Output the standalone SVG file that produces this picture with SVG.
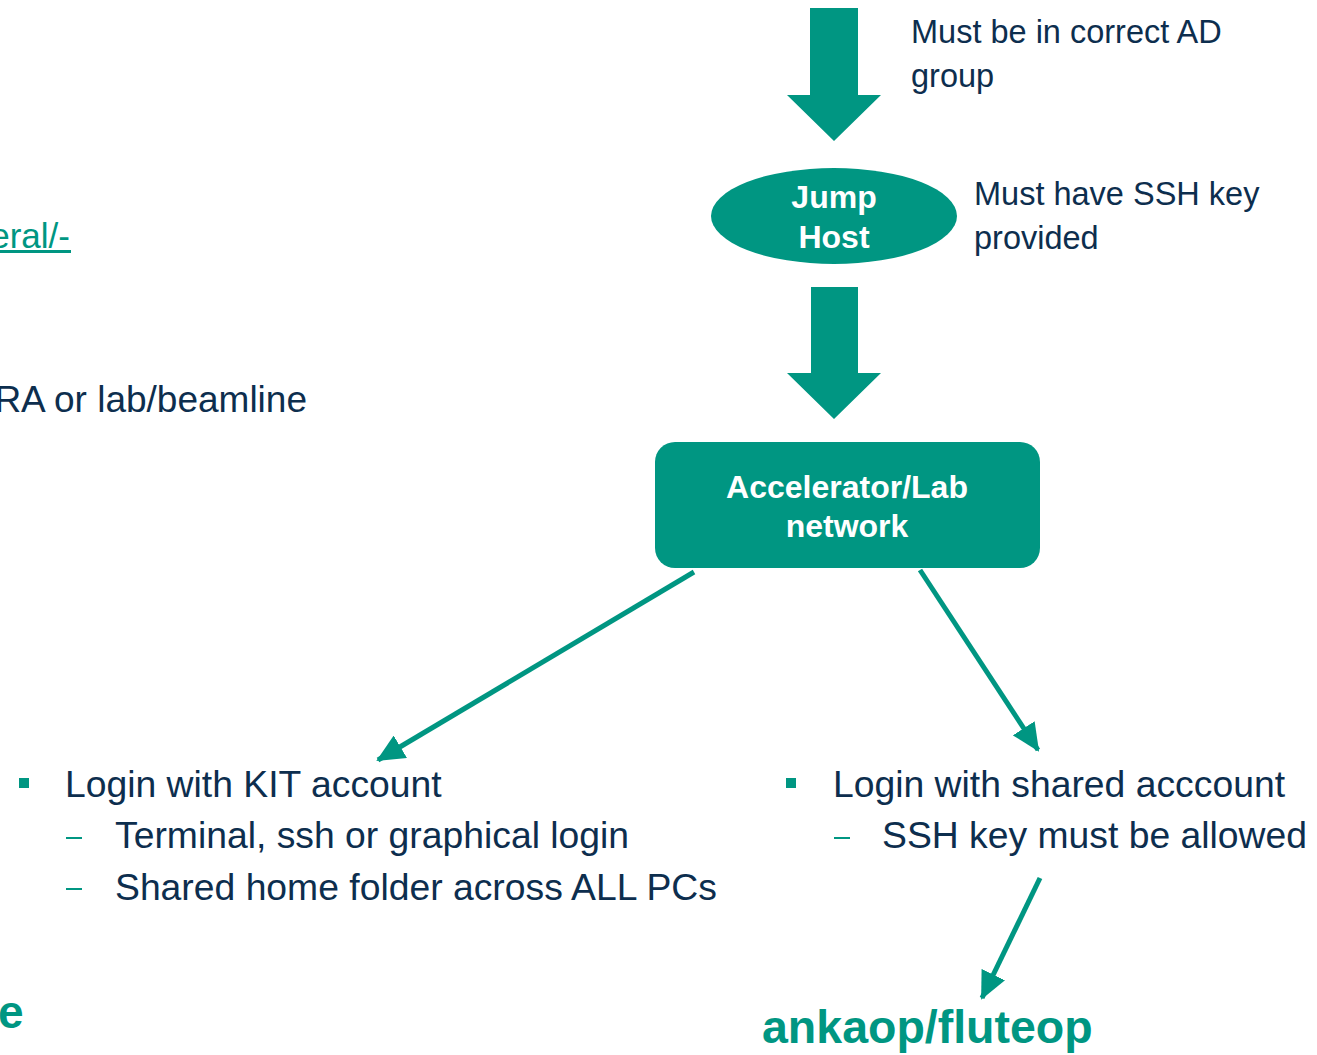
<svg xmlns="http://www.w3.org/2000/svg" width="1317" height="1055" viewBox="0 0 1317 1055">
<defs>
<style>
.t{font-family:"Liberation Sans",Arial,sans-serif;fill:#0d2e4e}
.b{font-family:"Liberation Sans",Arial,sans-serif;font-weight:bold}
.w{fill:#ffffff;font-size:32px;text-anchor:middle}
.g{fill:#009682}
.ln{stroke:#009682;stroke-width:5;fill:none}
.d{stroke:#009682;stroke-width:2}
</style>
<marker id="ah" markerUnits="userSpaceOnUse" markerWidth="28" markerHeight="26" viewBox="0 0 28 26" refX="26" refY="13" orient="auto">
<path d="M0,0 L28,13 L0,26 Z" fill="#009682"/>
</marker>
</defs>
<rect width="1317" height="1055" fill="#ffffff"/>

<g id="left-text">
<text class="t" x="70" y="248" font-size="35" text-anchor="end" style="fill:#009682">eral/-</text>
<rect x="0" y="250" width="71" height="3" fill="#009682"/>
<text class="t" x="307" y="412" font-size="37" text-anchor="end">RA or lab/beamline</text>
<text class="b g" x="-2" y="1028" font-size="46">e</text>
</g>

<g id="arrow-top">
<path d="M810,8 H858 V95 H881 L834,141 L787,95 H810 Z" fill="#009682"/>
</g>
<g id="note-ad">
<text class="t" x="911" y="43" font-size="32.5">Must be in correct AD</text>
<text class="t" x="911" y="87" font-size="32.5">group</text>
</g>

<g id="jump-host">
<ellipse cx="834" cy="216" rx="123" ry="48" fill="#009682"/>
<text class="b w" x="834" y="208">Jump</text>
<text class="b w" x="834" y="248">Host</text>
</g>
<g id="note-ssh">
<text class="t" x="974" y="205" font-size="32.5">Must have SSH key</text>
<text class="t" x="974" y="249" font-size="32.5">provided</text>
</g>

<g id="arrow-mid">
<path d="M811,287 H858 V373 H881 L834,419 L787,373 H811 Z" fill="#009682"/>
</g>

<g id="network">
<rect x="655" y="442" width="385" height="126" rx="20" fill="#009682"/>
<text class="b w" x="847" y="498">Accelerator/Lab</text>
<text class="b w" x="847" y="537">network</text>
</g>

<g id="connectors">
<line class="ln" x1="694" y1="572" x2="378" y2="760" marker-end="url(#ah)"/>
<line class="ln" x1="920" y1="570" x2="1038" y2="750" marker-end="url(#ah)"/>
<line class="ln" x1="1040" y1="878" x2="982" y2="998" marker-end="url(#ah)"/>
</g>

<g id="kit-account">
<rect x="19" y="778" width="10" height="10" fill="#009682"/>
<text class="t" x="65" y="797" font-size="37.3">Login with KIT account</text>
<line class="d" x1="66" y1="838" x2="82" y2="838"/>
<text class="t" x="115" y="848" font-size="37.3">Terminal, ssh or graphical login</text>
<line class="d" x1="66" y1="889" x2="82" y2="889"/>
<text class="t" x="115" y="900" font-size="37.3">Shared home folder across ALL PCs</text>
</g>

<g id="shared-account">
<rect x="786" y="778" width="10" height="10" fill="#009682"/>
<text class="t" x="833" y="797" font-size="37.3">Login with shared acccount</text>
<line class="d" x1="834" y1="838" x2="850" y2="838"/>
<text class="t" x="882" y="848" font-size="37.3">SSH key must be allowed</text>
</g>

<g id="ankaop">
<text class="b g" x="762" y="1043" font-size="46.5">ankaop/fluteop</text>
</g>
</svg>
